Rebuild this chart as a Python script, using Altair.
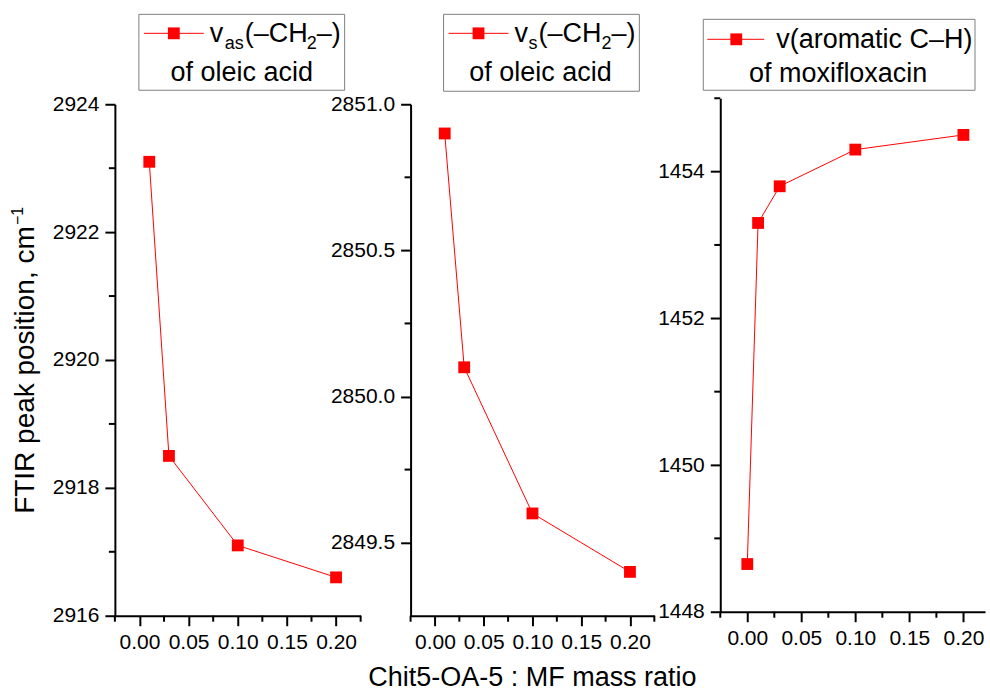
import altair as alt
import pandas as pd

FONT = "Liberation Sans"
RED = "#ff0000"

# ---- data ----
x_as = [0.01, 0.03, 0.10, 0.20]
y_as = [2923.1, 2918.5, 2917.1, 2916.6]
x_s = [0.01, 0.03, 0.10, 0.20]
y_s = [2850.9, 2850.1, 2849.6, 2849.4]
x_ar = [0.00, 0.01, 0.03, 0.10, 0.20]
y_ar = [1448.65, 1453.3, 1453.8, 1454.3, 1454.5]

x_ticks = [0.00, 0.05, 0.10, 0.15, 0.20]
x_minor12 = [-0.025, 0.025, 0.075, 0.125, 0.175, 0.225]
x_minor3 = [-0.025, 0.025, 0.075, 0.125, 0.175]
y_ticks1 = [2916, 2918, 2920, 2922, 2924]
y_minor1 = [2917, 2919, 2921, 2923]
y_ticks2 = [2849.5, 2850.0, 2850.5, 2851.0]
y_minor2 = [2849.75, 2850.25, 2850.75]
y_ticks3 = [1448, 1450, 1452, 1454]
y_minor3 = [1449, 1451, 1453, 1455]

one = pd.DataFrame({"k": [0]})


def txt(s, x, y, size, align="left", angle=0):
    return alt.Chart(one).mark_text(
        text=s, align=align, baseline="alphabetic", font=FONT,
        fontSize=size, color="black", angle=angle
    ).encode(x=alt.value(x), y=alt.value(y))


def box(x0, x1, y0, y1):
    return alt.Chart(one).mark_rect(
        fill="white", stroke="#7f7f7f", strokeWidth=1
    ).encode(x=alt.value(x0), x2=alt.value(x1), y=alt.value(y0), y2=alt.value(y1))


def leg_symbol(x0, x1, xc, y):
    ln = alt.Chart(one).mark_rule(color=RED, strokeWidth=1).encode(
        x=alt.value(x0), x2=alt.value(x1), y=alt.value(y))
    sq = alt.Chart(one).mark_square(color=RED, size=140, opacity=1).encode(
        x=alt.value(xc), y=alt.value(y))
    return [ln, sq]


def panel(xs, ys, xdom, xrange, ydom, yrange, yticks, yfmt, yminor, xminor, W, H, extras):
    df = pd.DataFrame({"x": xs, "y": ys})
    xsc = alt.Scale(domain=xdom, range=xrange, nice=False, zero=False)
    ysc = alt.Scale(domain=ydom, range=yrange, nice=False, zero=False)
    xax = alt.Axis(values=x_ticks, format=".2f", title=None)
    yax = alt.Axis(values=yticks, format=yfmt, title=None)
    base = alt.Chart(df)
    line = base.mark_line(color=RED, strokeWidth=1).encode(
        x=alt.X("x:Q", scale=xsc, axis=xax), y=alt.Y("y:Q", scale=ysc, axis=yax))
    pts = base.mark_square(color=RED, size=140, opacity=1).encode(
        x=alt.X("x:Q", axis=xax), y=alt.Y("y:Q", axis=yax))
    ymin = alt.Chart(pd.DataFrame({"y": yminor})).mark_rule(
        color="black", strokeWidth=2).encode(
        y=alt.Y("y:Q", axis=yax), x=alt.value(-6), x2=alt.value(0))
    xmin = alt.Chart(pd.DataFrame({"x": xminor})).mark_rule(
        color="black", strokeWidth=2).encode(
        x=alt.X("x:Q", axis=xax), y=alt.value(H), y2=alt.value(H + 6))
    return alt.layer(line, pts, ymin, xmin, *extras).properties(width=W, height=H)


# panel 1 extras: legend + y title
ex1 = [box(24, 230, -84, -8)] + leg_symbol(29, 89, 59, -65) + [
    txt("v", 95, -56, 27),
    txt("as", 110, -49, 18),
    txt("(–CH", 130, -56, 27),
    txt("2", 192, -49, 18),
    txt("–)", 202, -56, 27),
    txt("of oleic acid", 127, -17, 27, align="center"),
    txt("FTIR peak position, cm", -81, 416, 28, angle=270),
    txt("−1", -92, 127, 16, angle=270),
]
ex2 = [box(33, 229, -84, -7)] + leg_symbol(38, 98, 68, -65) + [
    txt("v", 104, -56, 27),
    txt("s", 118, -49, 18),
    txt("(–CH", 128, -56, 27),
    txt("2", 191, -49, 18),
    txt("–)", 201, -56, 27),
    txt("of oleic acid", 130, -17, 27, align="center"),
    txt("Chit5-OA-5 : MF mass ratio", 122, 588, 27, align="center"),
]
ex3 = [box(-17, 255, -79, -8)] + leg_symbol(-13, 44, 16, -59) + [
    txt("v(aromatic C–H)", 56, -50, 27),
    txt("of moxifloxacin", 118, -16, 27, align="center"),
]

p1 = panel(x_as, y_as, [-0.025, 0.225], [0, 246], [2916, 2924], [518, 6],
           y_ticks1, "d", y_minor1, x_minor12, 246, 518, ex1)
p2 = panel(x_s, y_s, [-0.025, 0.225], [0, 244], [2849.25, 2851.0], [518, 6],
           y_ticks2, ".1f", y_minor2, x_minor12, 260, 518, ex2)
p3 = panel(x_ar, y_ar, [-0.025, 0.22], [0, 265], [1448, 1455], [514, 0],
           y_ticks3, "d", y_minor3, x_minor3, 265, 514, ex3)

chart = alt.hconcat(p1, p2, p3, spacing=50, bounds="flush").properties(
    padding={"left": 10, "top": 13, "right": 5, "bottom": 5}
).configure_view(stroke=None).configure_axis(
    grid=False, domainColor="black", domainWidth=2, tickColor="black",
    tickWidth=2, tickSize=10, labelFont=FONT, labelFontSize=21,
    labelColor="black", labelPadding=6, labelFlush=False, labelOverlap=False,
)

chart.save("out.html", embed_options={"renderer": "svg", "actions": False})
